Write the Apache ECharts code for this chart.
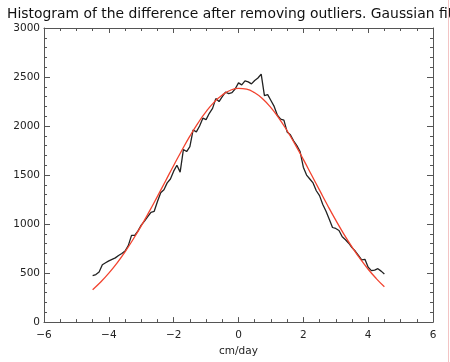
<!DOCTYPE html>
<html>
<head>
<meta charset="utf-8">
<script src="https://cdn.jsdelivr.net/npm/echarts@6/dist/echarts.min.js"></script>
<style>html,body{margin:0;padding:0;background:#fff;}#c{width:450px;height:362px;}</style>
</head>
<body>
<div id="c"></div>
<script>
// Histogram (black), bin centres from -4.5 to 4.5, step 0.1
var histX = [-4.5,-4.4,-4.3,-4.2,-4.1,-4.0,-3.9,-3.8,-3.7,-3.6,-3.5,-3.4,-3.3,-3.2,-3.1,-3.0,-2.9,-2.8,-2.7,-2.6,-2.5,-2.4,-2.3,-2.2,-2.1,-2.0,-1.9,-1.8,-1.7,-1.6,-1.5,-1.4,-1.3,-1.2,-1.1,-1.0,-0.9,-0.8,-0.7,-0.6,-0.5,-0.4,-0.3,-0.2,-0.1,0.0,0.1,0.2,0.3,0.4,0.5,0.6,0.7,0.8,0.9,1.0,1.1,1.2,1.3,1.4,1.5,1.6,1.7,1.8,1.9,2.0,2.1,2.2,2.3,2.4,2.5,2.6,2.7,2.8,2.9,3.0,3.1,3.2,3.3,3.4,3.5,3.6,3.7,3.8,3.9,4.0,4.1,4.2,4.3,4.4,4.5];
var histY = [475,485,510,585,605,625,640,655,680,700,725,780,885,885,930,990,1030,1075,1120,1130,1230,1320,1350,1420,1460,1540,1600,1530,1760,1740,1790,1960,1940,2000,2080,2065,2130,2180,2280,2250,2300,2345,2330,2340,2380,2440,2420,2460,2450,2430,2465,2490,2530,2310,2320,2260,2200,2110,2070,2060,1940,1910,1850,1800,1740,1580,1500,1460,1420,1340,1290,1200,1130,1050,965,955,935,870,840,805,760,725,680,635,640,560,525,530,545,520,490];
// Gaussian fit (red), every 0.25
var fitX = [-4.5,-4.25,-4.0,-3.75,-3.5,-3.25,-3.0,-2.75,-2.5,-2.25,-2.0,-1.75,-1.5,-1.25,-1.0,-0.75,-0.5,-0.25,0.0,0.25,0.5,0.75,1.0,1.25,1.5,1.75,2.0,2.25,2.5,2.75,3.0,3.25,3.5,3.75,4.0,4.25,4.5];
var fitY = [331,409,499,602,717,845,982,1129,1283,1440,1598,1751,1897,2030,2147,2244,2317,2365,2384,2376,2339,2276,2188,2079,1952,1810,1660,1503,1346,1190,1040,898,767,647,539,444,361];
var titleText = 'Histogram of the difference after removing outliers. Gaussian fit';
var xName = 'cm/day';

function zip(a, b) { return a.map(function (v, i) { return [v, b[i]]; }); }
function fmt(v) { return String(v).replace('-', '\u2212'); }

var axisCol = '#555';
var font = 'DejaVu Sans';
var chart = echarts.init(document.getElementById('c'));
function xAx(pos, show) {
  return {
    type: 'value', position: pos, min: -6, max: 6, interval: 2,
    name: show ? xName : '', nameLocation: 'middle', nameGap: 19,
    nameTextStyle: { color: '#222', fontFamily: font, fontSize: 10.5 },
    axisLine: { show: true, onZero: false, lineStyle: { color: axisCol, width: 1 } },
    axisTick: { show: true, inside: true, length: 5, lineStyle: { color: axisCol } },
    minorTick: { show: true, splitNumber: 4, length: 3, lineStyle: { color: axisCol } },
    axisLabel: { show: show, color: '#222', fontFamily: font, fontSize: 10.5, margin: 8, formatter: fmt },
    splitLine: { show: false }, minorSplitLine: { show: false }
  };
}
function yAx(pos, show) {
  return {
    type: 'value', position: pos, min: 0, max: 3000, interval: 500,
    axisLine: { show: true, onZero: false, lineStyle: { color: axisCol, width: 1 } },
    axisTick: { show: true, inside: true, length: 6, lineStyle: { color: axisCol } },
    minorTick: { show: true, splitNumber: 5, length: 3, lineStyle: { color: axisCol } },
    axisLabel: { show: show, color: '#222', fontFamily: font, fontSize: 10.5, margin: 4, formatter: function (v) { return String(v); } },
    splitLine: { show: false }, minorSplitLine: { show: false }
  };
}
chart.setOption({
  backgroundColor: '#fff',
  animation: false,
  grid: { left: 44, right: 17, top: 28, bottom: 32 },
  xAxis: [xAx('bottom', true), xAx('top', false)],
  yAxis: [yAx('left', true), yAx('right', false)],
  graphic: [
    { type: 'text', left: 7, top: 7, style: { text: titleText, fill: '#111', font: 'normal 13.9px "DejaVu Sans"' }, silent: true },
    { type: 'rect', shape: { x: 448, y: 0, width: 1, height: 362 }, style: { fill: '#f3c4c4' }, silent: true }
  ],
  series: [
    { type: 'line', data: zip(histX, histY), showSymbol: false, lineStyle: { color: '#222', width: 1.3 }, z: 2 },
    { type: 'line', data: zip(fitX, fitY), smooth: true, showSymbol: false, lineStyle: { color: '#f2432f', width: 1.3 }, z: 3 }
  ]
});
</script>
</body>
</html>
